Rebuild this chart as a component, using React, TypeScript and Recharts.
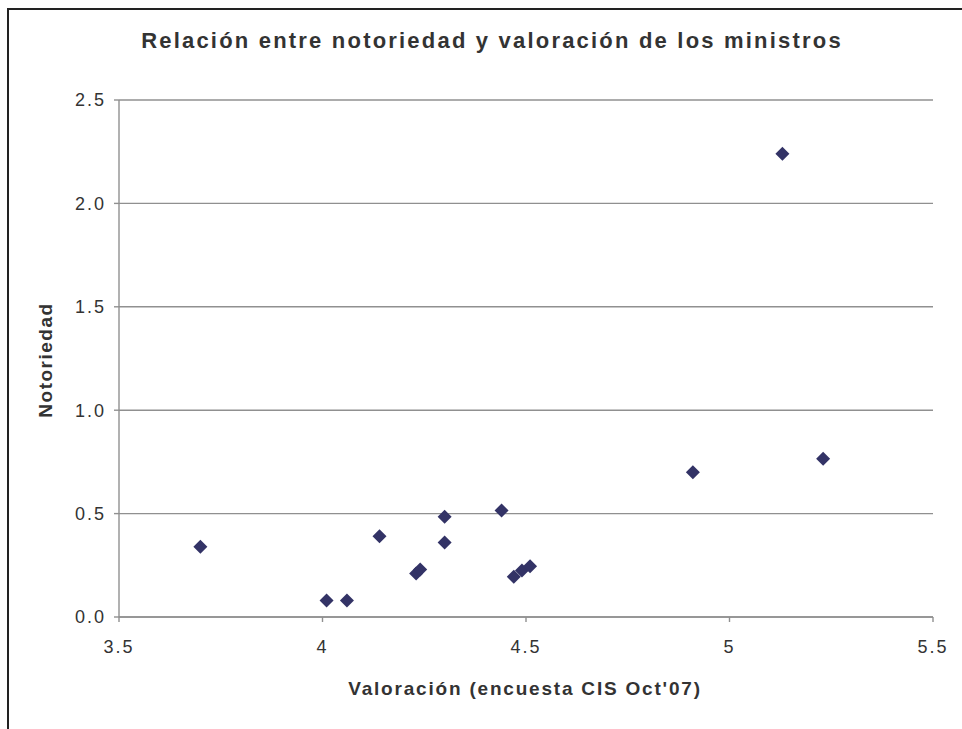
import React from 'react';
import { ScatterChart, Scatter, XAxis, YAxis, CartesianGrid } from 'recharts';

// valoración (x) y notoriedad (y) de cada ministro
const valoracion = [3.70, 4.01, 4.06, 4.14, 4.23, 4.24, 4.30, 4.30, 4.44, 4.47, 4.49, 4.51, 4.91, 5.13, 5.23];
const notoriedad = [0.34, 0.08, 0.08, 0.39, 0.21, 0.23, 0.485, 0.36, 0.515, 0.195, 0.225, 0.245, 0.70, 2.24, 0.765];
const xTicks = [3.5, 4, 4.5, 5, 5.5];
const yTicks = [0, 0.5, 1, 1.5, 2, 2.5];

const data = valoracion.map((v, i) => ({ x: v, y: notoriedad[i] }));

const FONT = '"Liberation Sans", Arial, sans-serif';

const Diamond = (props: any) => {
  const { cx, cy } = props;
  const r = 7;
  return (
    <polygon
      points={`${cx},${cy - r} ${cx + r},${cy} ${cx},${cy + r} ${cx - r},${cy}`}
      fill="#333366"
    />
  );
};

const tickStyle = { fill: '#333', fontSize: 18, fontFamily: FONT, letterSpacing: 2 };

const App = () => {
  return (
    <div style={{ position: 'absolute', left: 0, top: 0, width: 962, height: 729, background: '#fff', overflow: 'hidden', fontFamily: FONT }}>
      {/* marco del gráfico */}
      <div style={{ position: 'absolute', left: 7, top: 8, width: 1000, height: 800, border: '2px solid #222', boxSizing: 'border-box' }} />
      <ScatterChart width={962} height={729} margin={{ top: 100, right: 29, bottom: 0, left: 0 }}>
        <CartesianGrid vertical={false} stroke="#909090" strokeWidth={1.4} />
        <XAxis
          type="number"
          dataKey="x"
          domain={[3.5, 5.5]}
          ticks={xTicks}
          height={112}
          tickSize={5}
          tickMargin={18}
          stroke="#909090"
          strokeWidth={1.4}
          tick={tickStyle}
        />
        <YAxis
          type="number"
          dataKey="y"
          domain={[0, 2.5]}
          ticks={yTicks}
          width={119}
          tickSize={5}
          tickMargin={8}
          stroke="#909090"
          strokeWidth={1.4}
          tickFormatter={(v: number) => v.toFixed(1)}
          tick={tickStyle}
        />
        <Scatter data={data} shape={Diamond} isAnimationActive={false} />
      </ScatterChart>
      <svg width={962} height={729} style={{ position: 'absolute', left: 0, top: 0, pointerEvents: 'none' }}>
        <text x={492} y={48} textAnchor="middle" fontSize={22} fontWeight="bold" fill="#333" fontFamily={FONT} letterSpacing={2.2}>
          Relación entre notoriedad y valoración de los ministros
        </text>
        <text x={525} y={695} textAnchor="middle" fontSize={19} fontWeight="bold" fill="#333" fontFamily={FONT} letterSpacing={1.8}>
          Valoración (encuesta CIS Oct'07)
        </text>
        <text x={52} y={360} textAnchor="middle" fontSize={19} fontWeight="bold" fill="#333" fontFamily={FONT} letterSpacing={1.5} transform="rotate(-90 52 360)">
          Notoriedad
        </text>
      </svg>
    </div>
  );
};

export default App;
